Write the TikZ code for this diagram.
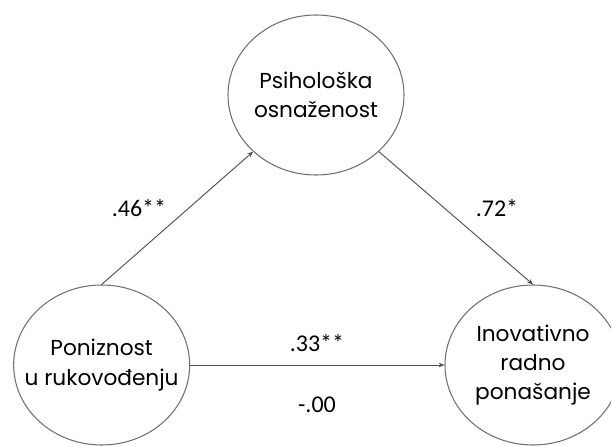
\documentclass[tikz,border=0pt]{standalone}
\usepackage{fontspec}
\usetikzlibrary{shapes.geometric,arrows.meta}
\newfontfamily\poppins{Poppins}
\newfontfamily\carlito{Carlito}
\definecolor{rim}{HTML}{707070}
\definecolor{edge}{HTML}{505050}
\tikzset{
	varnode/.style={ellipse, draw=rim, line width=0.9pt, fill=white, minimum width=5.28cm, minimum height=4.8cm, inner xsep=-0.5cm, inner ysep=0pt, align=center, font=\poppins\fontsize{18.5}{25}\selectfont},
	coef/.style={font=\carlito\fontsize{20.5}{24}\selectfont},
	link/.style={->, draw=edge, line width=0.8pt}
}
\begin{document}
\begin{tikzpicture}[line join=round, line cap=round, >={Stealth[length=5pt,width=4pt]}]
			\useasboundingbox (0,0) rectangle (18.33,13.35);
			\path 
			(9.48,10.5) node[varnode] (psi) {Psihološka\\osnaženost}
			(3.05,2.4) node[varnode] (pon) {Poniznost\\u rukovođenju}
			(15.99,2.4) node[varnode] (ino) {Inovativno\\radno\\ponašanje};
			\draw[link] (pon.north) -- (psi.222);
			\draw[link] (psi.318) -- (ino.north);
			\draw[link] (pon.east) -- (ino.west);
			\path 
			(4.17,7.11) node[coef] (a) {.46**}
			(14.91,7.11) node[coef] (b) {.72*}
			(9.51,3.06) node[coef] (c) {.33**}
			(9.51,1.2) node[coef] (cc) {-.00};
	\end{tikzpicture}
\end{document}
